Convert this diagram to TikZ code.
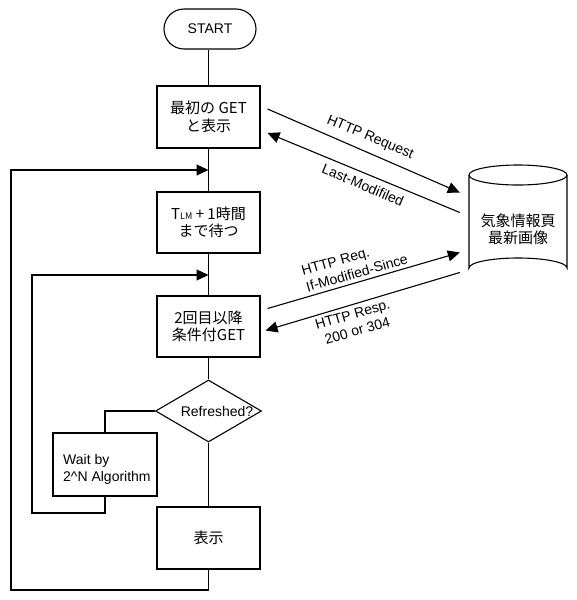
\documentclass[tikz,border=0pt]{standalone}
\usepackage{fontspec}
\setmainfont{Liberation Sans}
\newfontfamily\cjk{Noto Sans CJK JP}
\usetikzlibrary{arrows.meta,shapes.geometric,shapes.misc}
\begin{document}
\begin{tikzpicture}[x=1pt,y=-1pt,
  every node/.style={font=\fontsize{14}{17}\selectfont},
  line/.style={line width=1.1pt},
  proc/.style={draw, line, minimum width=103pt, minimum height=61pt, inner sep=0pt, align=center, font=\cjk\fontsize{15}{17.5}\selectfont},
  arr/.style={line, -{Triangle[length=12pt,width=11pt]}},
  lbl/.style={inner sep=0pt},
  jtext/.style={inner sep=0pt, align=center, font=\cjk\fontsize{15}{17}\selectfont}
]
\useasboundingbox (0,0) rectangle (576,600);

% nodes
\node[draw, line, rounded rectangle, minimum width=92pt, minimum height=40pt, inner sep=0pt] (start) at (210,29) {START};
\node[proc, minimum height=62pt] (b1) at (208.5,117) {最初の GET\\と表示};
\node[proc] (b2) at (208.5,222.5) {T{\fontsize{9}{9}\selectfont LM} + 1時間\\まで待つ};
\node[proc] (b3) at (208.5,326.5) {2回目以降\\条件付GET};
\node[draw, line, diamond, minimum width=106pt, minimum height=62pt, inner sep=0pt] (dia) at (208.5,411) {\makebox[0pt]{\hspace*{17pt}Refreshed?}};
\node[draw, line, minimum width=104pt, minimum height=63pt, inner sep=0pt] (wait) at (105,464.5) {};
\node[lbl, align=left, anchor=west] (waittext) at (63,469) {Wait by\\2\textasciicircum N Algorithm};
\node[proc, minimum height=62pt] (hyoji) at (208.5,538) {表示};

% cylinder
\node[minimum width=98pt, minimum height=115pt, inner sep=0pt] (cyl) at (518,222.5) {};
\draw[line] (469,175) -- (469,268) arc[start angle=180, end angle=360, x radius=49, y radius=10] -- (567,175);
\draw[line] (518,175) ellipse [x radius=49, y radius=10];
\node[jtext] (cyltext) at (518,229) {気象情報頁\\最新画像};

% flow lines
\coordinate (j1) at (208.5,170);
\coordinate (j2) at (208.5,275);
\coordinate (o1) at (11,590);
\coordinate (o2) at (32,513);
\draw[line] (b1.north |- start.south) -- (b1.north);
\draw[line] (b1.south) -- (b2.north);
\draw[line] (b2.south) -- (b3.north);
\draw[line] (b3.south) -- (dia.north);
\draw[line] (dia.south) -- (hyoji.north);
\draw[line] (dia.west) -| (wait.north);
\draw[arr] (hyoji.south) |- (o1) |- (j1);
\draw[arr] (wait.south) |- (o2) |- (j2);

% HTTP arrows
\draw[arr] ([shift={(7,-8)}]b1.east) -- ([shift={(-9,-30)}]cyl.west);
\draw[arr] ([shift={(-9,-10)}]cyl.west) -- ([shift={(7,16)}]b1.east);
\draw[arr] ([shift={(7,-18)}]b3.east) -- ([shift={(-9,30)}]cyl.west);
\draw[arr] ([shift={(-9,50)}]cyl.west) -- ([shift={(5,4)}]b3.east);

% labels
\node[lbl, rotate=-23] (l1) at (370,138) {HTTP Request};
\node[lbl, rotate=-23] (l2) at (363,185) {Last-Modifiled};
\node[lbl, rotate=16, align=left] (l3) at (354.6,264.8) {HTTP Req.\\If-Modified-Since};
\node[lbl, rotate=16, align=center] (l4) at (355,322.5) {HTTP Resp.\\200 or 304};
\end{tikzpicture}
\end{document}
